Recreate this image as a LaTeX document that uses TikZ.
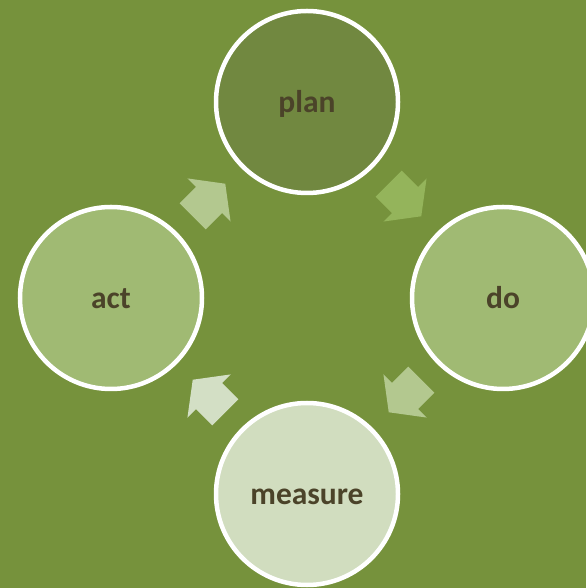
\documentclass[tikz,border=0pt]{standalone}
\usepackage{fontspec}
\setmainfont{Carlito}
\usetikzlibrary{calc}
\usetikzlibrary{backgrounds}
\definecolor{olivebg}{HTML}{76923C}
\definecolor{plangreen}{HTML}{718840}
\definecolor{dogreen}{HTML}{A0BA73}
\definecolor{measuregreen}{HTML}{D1DDBF}
\definecolor{arrowdark}{HTML}{94B45B}
\definecolor{arrowmid}{HTML}{B3C88F}
\definecolor{arrowlight}{HTML}{D3DFC5}
\definecolor{labelbrown}{HTML}{4B4329}
\tikzset{
    stage/.style={circle,draw=white,line width=4.5pt,minimum size=182pt,inner sep=0pt,
        text height=21pt,text depth=0pt,
        text=labelbrown,font=\fontsize{31.5}{36}\selectfont\bfseries},
    cyclearrow/.pic={
        \fill[#1] (-23,-18.5) -- (0,-18.5) -- (0,-30.5) -- (23,0) -- (0,30.5) -- (0,18.5) -- (-23,18.5) -- cycle;
    }
}

\begin{document}
\begin{tikzpicture}[x=1pt,y=1pt]
    \fill[olivebg] (0,0) rectangle (586,588);
    \useasboundingbox (0,0) rectangle (586,588);
    \node[stage,fill=plangreen] (plan) at (307,486) {plan};
    \node[stage,fill=dogreen] (do) at (503,290) {do};
    \node[stage,fill=measuregreen] (measure) at (307,94) {measure};
    \node[stage,fill=dogreen] (act) at (111,290) {act};
    % arrows between the stages
    \pic[rotate=-45] at ($(plan)!0.5!(do)$) {cyclearrow=arrowdark};
    \pic[rotate=-135] at ($(do)!0.5!(measure)$) {cyclearrow=arrowmid};
    \pic[rotate=135] at ($(measure)!0.5!(act)$) {cyclearrow=arrowlight};
    \pic[rotate=45] at ($(act)!0.5!(plan)$) {cyclearrow=arrowmid};
\end{tikzpicture}
\end{document}
